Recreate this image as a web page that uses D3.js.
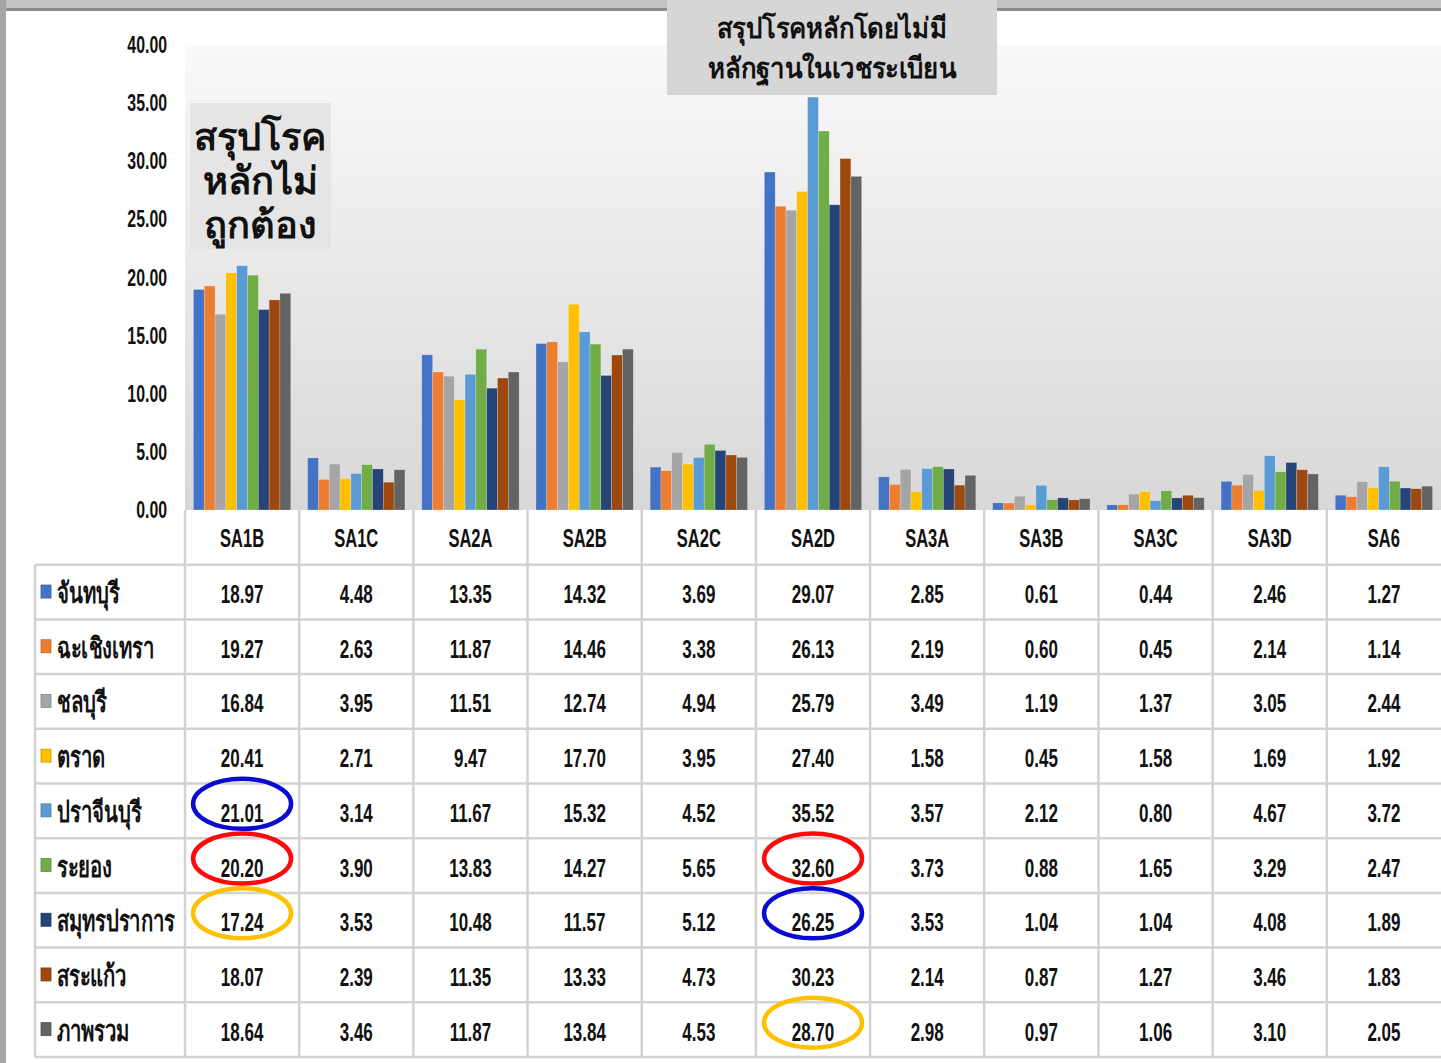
<!DOCTYPE html>
<html>
<head>
<meta charset="utf-8">
<script src="https://cdn.jsdelivr.net/npm/d3@7"></script>
<style>
  body { margin: 0; background: #fff; }
  svg text { font-family: "Liberation Sans", "Noto Sans", sans-serif; fill: #111; }
</style>
</head>
<body>
<div id="chart"></div>
<script>
/**********************/
/******* data         */
/**********************/

const categories = ["SA1B", "SA1C", "SA2A", "SA2B", "SA2C", "SA2D", "SA3A", "SA3B", "SA3C", "SA3D", "SA6"];
const provinces = ["จันทบุรี", "ฉะเชิงเทรา", "ชลบุรี", "ตราด", "ปราจีนบุรี", "ระยอง", "สมุทรปราการ", "สระแก้ว", "ภาพรวม"];

const chanthaburi  = [18.97, 4.48, 13.35, 14.32, 3.69, 29.07, 2.85, 0.61, 0.44, 2.46, 1.27];
const chachoengsao = [19.27, 2.63, 11.87, 14.46, 3.38, 26.13, 2.19, 0.60, 0.45, 2.14, 1.14];
const chonburi     = [16.84, 3.95, 11.51, 12.74, 4.94, 25.79, 3.49, 1.19, 1.37, 3.05, 2.44];
const trat         = [20.41, 2.71, 9.47, 17.70, 3.95, 27.40, 1.58, 0.45, 1.58, 1.69, 1.92];
const prachinburi  = [21.01, 3.14, 11.67, 15.32, 4.52, 35.52, 3.57, 2.12, 0.80, 4.67, 3.72];
const rayong       = [20.20, 3.90, 13.83, 14.27, 5.65, 32.60, 3.73, 0.88, 1.65, 3.29, 2.47];
const samutprakan  = [17.24, 3.53, 10.48, 11.57, 5.12, 26.25, 3.53, 1.04, 1.04, 4.08, 1.89];
const sakaeo       = [18.07, 2.39, 11.35, 13.33, 4.73, 30.23, 2.14, 0.87, 1.27, 3.46, 1.83];
const overall      = [18.64, 3.46, 11.87, 13.84, 4.53, 28.70, 2.98, 0.97, 1.06, 3.10, 2.05];

const seriesValues = [chanthaburi, chachoengsao, chonburi, trat, prachinburi, rayong, samutprakan, sakaeo, overall];
const seriesColors = ["#4472C4", "#ED7D31", "#A5A5A5", "#FFC000", "#5B9BD5", "#70AD47", "#264478", "#9E480E", "#636363"];

const yTicks = [0, 5, 10, 15, 20, 25, 30, 35, 40];

// hand drawn circles over the table
const highlights = [
    { category: "SA1B", province: "ปราจีนบุรี", color: "#0a0ad0" },
    { category: "SA1B", province: "ระยอง", color: "#ff0a0a" },
    { category: "SA1B", province: "สมุทรปราการ", color: "#ffc000" },
    { category: "SA2D", province: "ระยอง", color: "#ff0a0a" },
    { category: "SA2D", province: "สมุทรปราการ", color: "#0a0ad0" },
    { category: "SA2D", province: "ภาพรวม", color: "#ffc000" }
];

/**********************/
/******* d3           */
/**********************/

const width = 1441, height = 1063;
const plotLeft = 185, plotTop = 45, baseY = 510, tableBottom = 1057;

const svg = d3.select("#chart")
    .append("svg")
    .attr("width", width)
    .attr("height", height);

const defs = svg.append("defs");
const grad = defs.append("linearGradient")
    .attr("id", "plotBg")
    .attr("x1", 0).attr("y1", 0).attr("x2", 0).attr("y2", 1);
grad.append("stop").attr("offset", "0%").attr("stop-color", "#f9f9f9");
grad.append("stop").attr("offset", "100%").attr("stop-color", "#d8d8d8");

// slide frame
svg.append("rect").attr("x", 0).attr("y", 0).attr("width", width).attr("height", 9).attr("fill", "#c4c4c4");
svg.append("rect").attr("x", 0).attr("y", 8).attr("width", width).attr("height", 3).attr("fill", "#8c8c8c");
svg.append("rect").attr("x", 0).attr("y", 0).attr("width", 6).attr("height", height).attr("fill", "#a6a6a6");

const x = d3.scaleBand()
    .domain(categories)
    .range([plotLeft, width])
    .paddingInner(0);

const x1 = d3.scaleBand()
    .domain(provinces)
    .range([0, x.bandwidth()])
    .paddingInner(0)
    .paddingOuter(0.78);

const y = d3.scaleLinear()
    .domain([0, 40])
    .range([baseY, plotTop]);

const rowY = d3.scaleBand()
    .domain(["header"].concat(provinces))
    .range([baseY, tableBottom]);

const color = d3.scaleOrdinal()
    .domain(provinces)
    .range(seriesColors);

svg.append("rect")
    .attr("x", plotLeft)
    .attr("y", plotTop)
    .attr("width", width - plotLeft)
    .attr("height", baseY - plotTop)
    .attr("fill", "url(#plotBg)");

// narrow text helper: the source uses a condensed face
function narrowText(g, tx, ty, str, size, anchor, weight, sx) {
    return g.append("text")
        .attr("transform", `translate(${tx},${ty}) scale(${sx},1)`)
        .attr("text-anchor", anchor)
        .style("font-size", size + "px")
        .style("font-weight", weight)
        .text(str);
}

// y axis labels
const yAxis = svg.append("g").attr("class", "y-axis");
yTicks.forEach(t => {
    narrowText(yAxis, 167, y(t) + 8, d3.format(".2f")(t), 24, "end", "bold", 0.66);
});

// bars
const groups = svg.append("g").attr("class", "bars")
    .selectAll("g")
    .data(categories)
    .enter()
    .append("g")
    .attr("transform", d => `translate(${x(d)},0)`);

groups.selectAll("rect")
    .data((c, ci) => provinces.map((p, pi) => ({ province: p, value: seriesValues[pi][ci] })))
    .enter()
    .append("rect")
    .attr("x", d => x1(d.province))
    .attr("y", d => y(d.value))
    .attr("width", x1.bandwidth())
    .attr("height", d => baseY - y(d.value))
    .attr("fill", d => color(d.province))
    .attr("stroke", "rgba(255,255,255,0.35)")
    .attr("stroke-width", 0.6);

// data table
const table = svg.append("g").attr("class", "table");
const lineColor = "#d2d2d2";

// vertical lines
categories.forEach(c => {
    table.append("line")
        .attr("x1", x(c)).attr("x2", x(c))
        .attr("y1", baseY).attr("y2", tableBottom)
        .attr("stroke", lineColor).attr("stroke-width", 2.5);
});
table.append("line")
    .attr("x1", 35).attr("x2", 35)
    .attr("y1", rowY("header") + rowY.bandwidth()).attr("y2", tableBottom)
    .attr("stroke", lineColor).attr("stroke-width", 2.5);

// horizontal lines
provinces.forEach(p => {
    table.append("line")
        .attr("x1", 35).attr("x2", width)
        .attr("y1", rowY(p)).attr("y2", rowY(p))
        .attr("stroke", lineColor).attr("stroke-width", 2.5);
});
table.append("line")
    .attr("x1", 35).attr("x2", width)
    .attr("y1", tableBottom).attr("y2", tableBottom)
    .attr("stroke", lineColor).attr("stroke-width", 2.5);

// header labels
categories.forEach(c => {
    narrowText(table, x(c) + x.bandwidth() / 2, rowY("header") + rowY.bandwidth() / 2 + 10, c, 25, "middle", "bold", 0.66);
});

// row labels with legend keys
provinces.forEach((p, pi) => {
    const cy = rowY(p) + rowY.bandwidth() / 2;
    table.append("rect")
        .attr("x", 41).attr("y", cy - 7)
        .attr("width", 10).attr("height", 13)
        .attr("fill", color(p))
        .attr("stroke", d3.color(color(p)).darker(0.6))
        .attr("stroke-width", 0.8);
    narrowText(table, 57, cy + 11, p, 29, "start", "bold", 0.7);

    categories.forEach((c, ci) => {
        narrowText(table, x(c) + x.bandwidth() / 2, cy + 11, d3.format(".2f")(seriesValues[pi][ci]), 25, "middle", "bold", 0.68);
    });
});

// annotation boxes
const notes = svg.append("g").attr("class", "notes");
notes.append("rect")
    .attr("x", 190).attr("y", 103).attr("width", 141).attr("height", 146)
    .attr("fill", "#e5e5e5");
["สรุปโรค", "หลักไม่", "ถูกต้อง"].forEach((s, i) => {
    narrowText(notes, 260, 150 + i * 44, s, 38, "middle", "bold", 1);
});

notes.append("rect")
    .attr("x", 667).attr("y", 0).attr("width", 330).attr("height", 95)
    .attr("fill", "#d6d6d6");
["สรุปโรคหลักโดยไม่มี", "หลักฐานในเวชระเบียน"].forEach((s, i) => {
    narrowText(notes, 832, 38 + i * 40, s, 28, "middle", "bold", 0.92);
});

// circles drawn on the table
svg.append("g").attr("class", "highlights")
    .selectAll("ellipse")
    .data(highlights)
    .enter()
    .append("ellipse")
    .attr("cx", d => x(d.category) + x.bandwidth() / 2)
    .attr("cy", d => rowY(d.province) + rowY.bandwidth() / 2 - 7)
    .attr("rx", 49)
    .attr("ry", 25)
    .attr("fill", "none")
    .attr("stroke", d => d.color)
    .attr("stroke-width", 4.5);
</script>
</body>
</html>
